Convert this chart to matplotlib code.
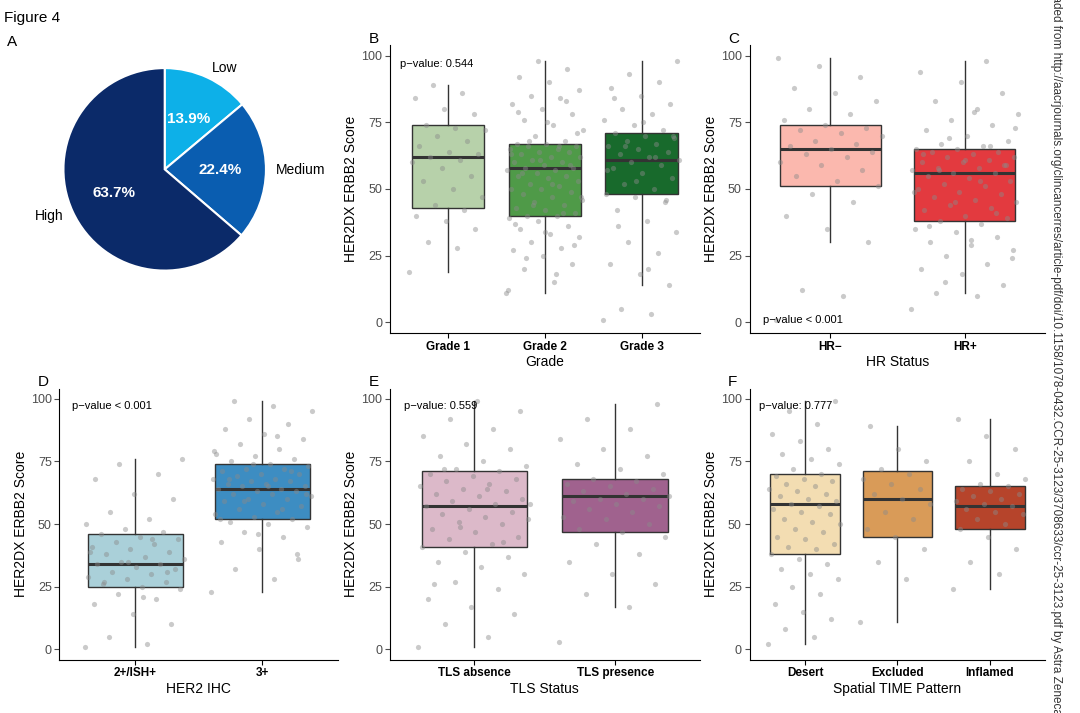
import matplotlib.pyplot as plt
import numpy as np

plt.rcParams['font.family'] = ['Liberation Sans', 'DejaVu Sans']

# pie
pie_labels = ['Low', 'Medium', 'High']
pie_pct = [13.9, 22.4, 63.7]
pie_colors = ['#0db0e8', '#0a5db0', '#0b2a69']

# box stats: (whislo, q1, med, q3, whishi)
panels = [
    dict(letter='B', xlabel='Grade', p='p\u2212value: 0.544', ptop=True,
         cats=['Grade 1', 'Grade 2', 'Grade 3'],
         colors=['#b7d1aa', '#4f9a48', '#186a2c'],
         stats=[(19, 43, 62, 74, 89), (11, 40, 58, 67, 98), (14, 48, 61, 71, 98)]),
    dict(letter='C', xlabel='HR Status', p='p\u2212value < 0.001', ptop=False,
         cats=['HR\u2212', 'HR+'],
         colors=['#fbb8ae', '#e33a3f'],
         stats=[(30, 51, 65, 74, 99), (11, 38, 56, 65, 98)]),
    dict(letter='D', xlabel='HER2 IHC', p='p\u2212value < 0.001', ptop=True,
         cats=['2+/ISH+', '3+'],
         colors=['#aad0d9', '#3d8dc2'],
         stats=[(1, 25, 34, 46, 76), (23, 52, 64, 74, 99)]),
    dict(letter='E', xlabel='TLS Status', p='p\u2212value: 0.559', ptop=True,
         cats=['TLS absence', 'TLS presence'],
         colors=['#dcb9c9', '#a0628e'],
         stats=[(1, 41, 57, 71, 99), (17, 47, 61, 68, 98)]),
    dict(letter='F', xlabel='Spatial TIME Pattern', p='p\u2212value: 0.777', ptop=True,
         cats=['Desert', 'Excluded', 'Inflamed'],
         colors=['#f3ddb2', '#d99b58', '#b6442b'],
         stats=[(2, 38, 58, 70, 99), (11, 45, 60, 71, 89), (24, 48, 57, 65, 92)]),
]

# jittered points (y values)
points = {
    'Grade 1': "19 28 30 35 38 40 42 44 47 50 53 55 58 60 61 62 63 64 66 68 70 72 73 74 78 80 84 86 89",
    'Grade 2': "11 15 20 22 25 27 28 30 32 33 35 36 38 39 40 40 41 42 43 44 45 46 47 48 49 50 50 51 52 53 "
               "54 55 55 56 57 57 58 58 59 60 60 61 62 62 63 64 64 65 65 66 66 67 67 68 70 72 74 76 78 80 "
               "82 84 85 87 90 92 95 98 12 18 24 29 34 37 41 44 47 52 56 59 61 63 66 68 71 75 79 83",
    'Grade 3': "1 3 5 14 18 22 26 30 34 38 42 45 47 48 50 52 54 56 58 59 60 61 62 63 64 65 66 67 68 69 "
               "70 71 72 74 76 78 80 82 85 88 90 93 98 20 36 46 53 57 62 66 70 75 84",
    'HR\u2212': "1 10 12 30 35 40 45 48 51 53 55 57 59 60 62 63 64 65 66 67 68 70 71 72 73 74 76 78 80 83 86 88 92 96 99",
    'HR+': "5 10 11 14 18 20 22 25 27 29 30 32 34 35 37 38 39 40 42 43 44 45 46 47 48 49 50 51 52 53 "
           "54 55 56 56 57 58 58 59 60 60 61 62 62 63 64 64 65 65 66 67 68 70 72 74 76 78 80 83 86 90 94 98 "
           "15 24 31 36 41 45 49 53 57 59 61 63 66 69 73 79",
    '2+/ISH+': "1 2 5 10 14 18 20 22 24 25 26 27 28 29 30 31 32 33 34 34 35 36 37 38 39 40 41 42 43 44 "
               "45 46 47 48 50 52 55 60 62 68 70 74 76 21 27 31 35 39 44",
    '3+': "23 28 32 36 40 43 45 47 49 50 51 52 53 54 55 56 57 58 59 60 60 61 62 62 63 63 64 64 65 65 "
          "66 66 67 67 68 68 69 70 70 71 72 72 73 74 75 76 77 78 80 82 84 86 88 90 92 95 97 99 "
          "38 46 52 56 59 62 65 68 71 74 79 85",
    'TLS absence': "1 5 10 14 17 20 24 27 30 33 35 37 39 41 42 44 45 47 48 50 51 52 53 54 55 56 57 58 59 60 "
                   "61 62 63 64 65 66 67 68 69 70 71 72 73 75 77 80 82 85 88 92 95 99 26 43 49 58 64 72",
    'TLS presence': "3 17 22 26 30 35 38 42 45 47 48 50 52 53 55 56 57 58 59 60 60 61 62 63 64 65 66 67 68 70 "
                    "72 74 77 80 84 88 92 98",
    'Desert': "2 5 8 12 15 18 22 25 28 30 32 34 36 38 40 41 42 44 45 47 48 50 51 52 54 55 56 57 58 59 "
              "60 61 62 63 64 65 66 67 68 69 70 72 74 76 78 80 83 86 90 95 99",
    'Excluded': "11 28 35 40 45 48 52 55 58 60 62 64 66 68 70 72 75 80 89",
    'Inflamed': "24 30 35 40 45 48 50 52 54 55 56 57 58 59 60 61 62 63 64 65 66 68 70 75 80 85 92",
}

fig = plt.figure(figsize=(10.8, 7.13), dpi=100)
fig.text(0.004, 0.975, 'Figure 4', fontsize=11, va='center')

# panel A pie
axp = fig.add_axes([0.035, 0.585, 0.235, 0.355])
wedges, _, autot = axp.pie(pie_pct, colors=pie_colors, startangle=90, counterclock=False,
                           autopct='%1.1f%%', pctdistance=0.55,
                           wedgeprops=dict(edgecolor='white', linewidth=1.5),
                           textprops=dict(color='white', fontsize=11, fontweight='bold'))
for w, lab in zip(wedges, pie_labels):
    ang = np.deg2rad((w.theta1 + w.theta2) / 2)
    r = 1.1
    ha = 'left' if np.cos(ang) > 0 else 'right'
    axp.text(r * np.cos(ang), r * np.sin(ang), lab, ha=ha, va='center', fontsize=10)
axp.set_aspect('equal')
fig.text(0.006, 0.935, 'A', fontsize=11)

pos = {'B': [0.361, 0.533, 0.287, 0.404], 'C': [0.694, 0.533, 0.274, 0.404],
       'D': [0.048, 0.053, 0.265, 0.403], 'E': [0.361, 0.053, 0.287, 0.403],
       'F': [0.694, 0.053, 0.274, 0.403]}
pos['D'] = [0.055, 0.075, 0.258, 0.38]
pos['E'] = [0.361, 0.075, 0.287, 0.38]
pos['F'] = [0.694, 0.075, 0.274, 0.38]

for pn in panels:
    ax = fig.add_axes(pos[pn['letter']])
    bx = []
    for c, s in zip(pn['cats'], pn['stats']):
        bx.append(dict(whislo=s[0], q1=s[1], med=s[2], q3=s[3], whishi=s[4], fliers=[], label=c))
    n = len(bx)
    xs = np.arange(1, n + 1)
    res = ax.bxp(bx, positions=xs, widths=0.75, patch_artist=True, showcaps=False,
                 boxprops=dict(linewidth=1.0, edgecolor='#333333'),
                 medianprops=dict(color='#333333', linewidth=2.2),
                 whiskerprops=dict(color='#333333', linewidth=1.0))
    for b, col in zip(res['boxes'], pn['colors']):
        b.set_facecolor(col)
    for i, c in enumerate(pn['cats']):
        y = np.array(points[c].split(), dtype=float)
        k = np.arange(len(y))
        off = ((k * 0.6180339) % 1.0 - 0.5) * 0.8
        ax.scatter(xs[i] + off, y, s=14, color='#8a8a8a', alpha=0.45, linewidths=0, zorder=3)
    ax.set_ylim(-4, 104)
    ax.set_xlim(0.4, n + 0.6)
    ax.set_yticks([0, 25, 50, 75, 100])
    ax.set_xticks(xs)
    ax.set_xticklabels(pn['cats'], fontweight='bold', fontsize=8.5)
    ax.tick_params(axis='y', labelsize=9, colors='#4d4d4d', pad=2)
    ax.tick_params(axis='x', labelcolor='black', pad=2)
    for sp in ['top', 'right']:
        ax.spines[sp].set_visible(False)
    ax.set_ylabel('HER2DX ERBB2 Score', fontsize=10, labelpad=2)
    ax.set_xlabel(pn['xlabel'], fontsize=10, labelpad=2)
    py = 97 if pn['ptop'] else 1
    ax.text(0.5, py, pn['p'], fontsize=8, va='center')
    bb = pos[pn['letter']]
    fig.text(bb[0] - 0.02, bb[1] + bb[3] + 0.003, pn['letter'], fontsize=11)

fig.text(0.978, 0.5, 'Downloaded from http://aacrjournals.org/clincancerres/article-pdf/doi/10.1158/1078-0432.CCR-25-3123/3708633/ccr-25-3123.pdf by Astra Zeneca user on',
         rotation=-90, fontsize=8.5, va='center', ha='center', color='#333333')

fig.savefig('out.png', dpi=100)
